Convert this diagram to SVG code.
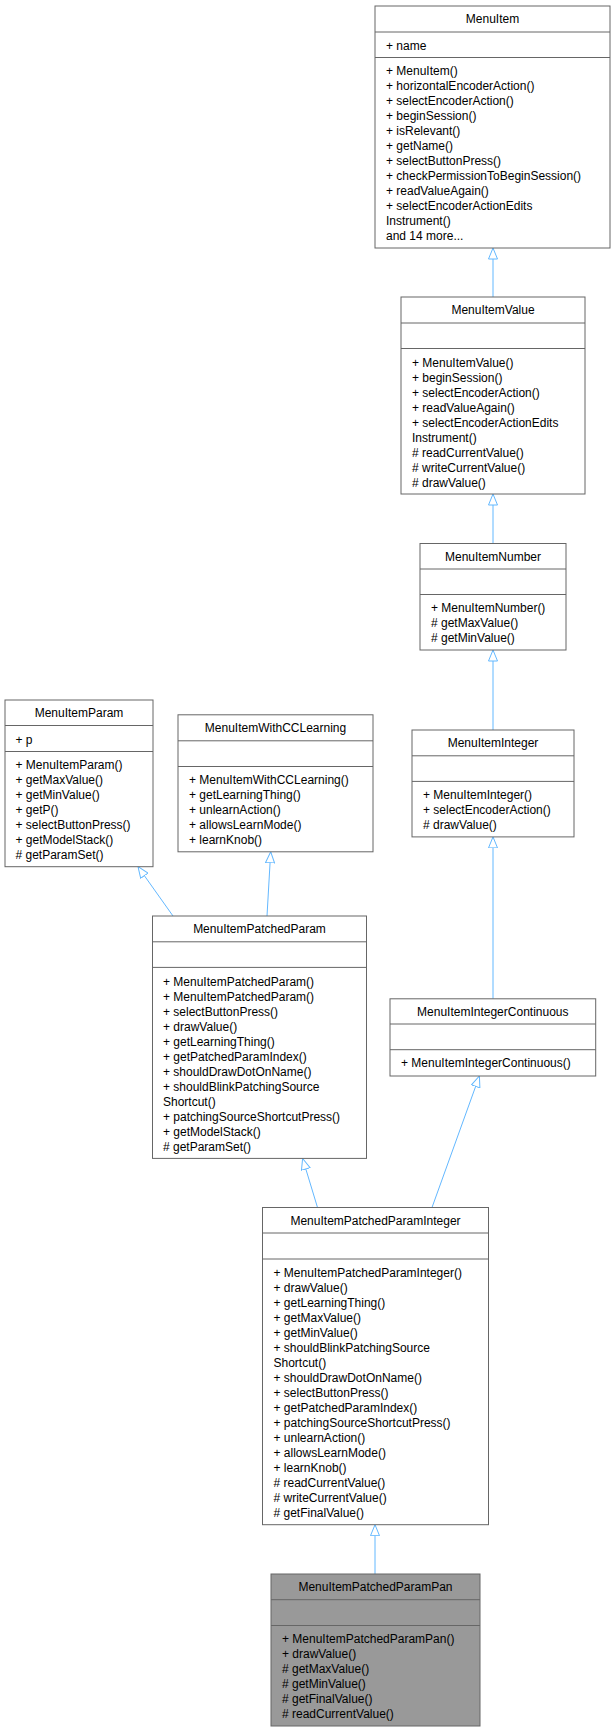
<svg xmlns="http://www.w3.org/2000/svg" width="616" height="1732" viewBox="0 0 616 1732">
<style>
text{font-family:"Liberation Sans",Arial,sans-serif;font-size:12px;fill:#000}
.t{text-anchor:middle}
rect{fill:#fff;stroke:#666;stroke-width:1}
rect.sel{fill:#999}
line.s{stroke:#666;stroke-width:1}
.e{fill:none;stroke:#63b8ff;stroke-width:1}
</style>
<defs>
<marker id="inh" viewBox="0 0 12 10" refX="11.5" refY="5" markerWidth="12" markerHeight="10" markerUnits="userSpaceOnUse" orient="auto">
<path d="M0.5,0.5 L11.5,5 L0.5,9.5 Z" fill="#fff" stroke="#63b8ff"/>
</marker>
</defs>
<rect width="616" height="1732" style="fill:#fff;stroke:none"/>
<g id="edges">
<path class="e" marker-end="url(#inh)" d="M493,297 L493,248"/>
<path class="e" marker-end="url(#inh)" d="M493,543.5 L493,494"/>
<path class="e" marker-end="url(#inh)" d="M493,730 L493,650"/>
<path class="e" marker-end="url(#inh)" d="M493,998.8 L493,836.9"/>
<path class="e" marker-end="url(#inh)" d="M173,916 L138,866.7"/>
<path class="e" marker-end="url(#inh)" d="M267,916 L270.7,851.8"/>
<path class="e" marker-end="url(#inh)" d="M317.5,1207.5 L302.6,1158.4"/>
<path class="e" marker-end="url(#inh)" d="M432,1207.5 L479.4,1076"/>
<path class="e" marker-end="url(#inh)" d="M375,1574 L375,1524.7"/>
</g>
<g id="MenuItem">
<rect x="375" y="6" width="235" height="242"/>
<line class="s" x1="375" y1="32" x2="610" y2="32"/><line class="s" x1="375" y1="57.5" x2="610" y2="57.5"/>
<text class="t" x="492.5" y="23">MenuItem</text>
<text x="386" y="50">+ name</text>
<text x="386" y="74.5">+ MenuItem()</text>
<text x="386" y="89.5">+ horizontalEncoderAction()</text>
<text x="386" y="104.5">+ selectEncoderAction()</text>
<text x="386" y="119.5">+ beginSession()</text>
<text x="386" y="134.5">+ isRelevant()</text>
<text x="386" y="149.5">+ getName()</text>
<text x="386" y="164.5">+ selectButtonPress()</text>
<text x="386" y="179.5">+ checkPermissionToBeginSession()</text>
<text x="386" y="194.5">+ readValueAgain()</text>
<text x="386" y="209.5">+ selectEncoderActionEdits</text>
<text x="386" y="224.5">Instrument()</text>
<text x="386" y="239.5">and 14 more...</text>
</g>
<g id="MenuItemValue">
<rect x="401" y="297" width="184" height="197"/>
<line class="s" x1="401" y1="323" x2="585" y2="323"/><line class="s" x1="401" y1="348.5" x2="585" y2="348.5"/>
<text class="t" x="493" y="314">MenuItemValue</text>
<text x="412" y="366.5">+ MenuItemValue()</text>
<text x="412" y="381.5">+ beginSession()</text>
<text x="412" y="396.5">+ selectEncoderAction()</text>
<text x="412" y="411.5">+ readValueAgain()</text>
<text x="412" y="426.5">+ selectEncoderActionEdits</text>
<text x="412" y="441.5">Instrument()</text>
<text x="412" y="456.5"># readCurrentValue()</text>
<text x="412" y="471.5"># writeCurrentValue()</text>
<text x="412" y="486.5"># drawValue()</text>
</g>
<g id="MenuItemNumber">
<rect x="420" y="543.5" width="146" height="106.5"/>
<line class="s" x1="420" y1="569" x2="566" y2="569"/><line class="s" x1="420" y1="594.5" x2="566" y2="594.5"/>
<text class="t" x="493" y="560.5">MenuItemNumber</text>
<text x="431" y="612">+ MenuItemNumber()</text>
<text x="431" y="627"># getMaxValue()</text>
<text x="431" y="642"># getMinValue()</text>
</g>
<g id="MenuItemParam">
<rect x="5" y="700" width="148" height="166.7"/>
<line class="s" x1="5" y1="725.5" x2="153" y2="725.5"/><line class="s" x1="5" y1="751.5" x2="153" y2="751.5"/>
<text class="t" x="79" y="717">MenuItemParam</text>
<text x="15.5" y="744">+ p</text>
<text x="15.5" y="768.6">+ MenuItemParam()</text>
<text x="15.5" y="783.6">+ getMaxValue()</text>
<text x="15.5" y="798.6">+ getMinValue()</text>
<text x="15.5" y="813.6">+ getP()</text>
<text x="15.5" y="828.6">+ selectButtonPress()</text>
<text x="15.5" y="843.6">+ getModelStack()</text>
<text x="15.5" y="858.6"># getParamSet()</text>
</g>
<g id="MenuItemWithCCLearning">
<rect x="178" y="714.8" width="195" height="137"/>
<line class="s" x1="178" y1="740.8" x2="373" y2="740.8"/><line class="s" x1="178" y1="766.5" x2="373" y2="766.5"/>
<text class="t" x="275.5" y="732">MenuItemWithCCLearning</text>
<text x="189" y="783.5">+ MenuItemWithCCLearning()</text>
<text x="189" y="798.5">+ getLearningThing()</text>
<text x="189" y="813.5">+ unlearnAction()</text>
<text x="189" y="828.5">+ allowsLearnMode()</text>
<text x="189" y="843.5">+ learnKnob()</text>
</g>
<g id="MenuItemInteger">
<rect x="412" y="730" width="162" height="106.9"/>
<line class="s" x1="412" y1="755.8" x2="574" y2="755.8"/><line class="s" x1="412" y1="781.4" x2="574" y2="781.4"/>
<text class="t" x="493" y="747">MenuItemInteger</text>
<text x="423" y="798.8">+ MenuItemInteger()</text>
<text x="423" y="813.8">+ selectEncoderAction()</text>
<text x="423" y="828.8"># drawValue()</text>
</g>
<g id="MenuItemPatchedParam">
<rect x="152.5" y="916" width="214" height="242.4"/>
<line class="s" x1="152.5" y1="941.8" x2="366.5" y2="941.8"/><line class="s" x1="152.5" y1="967.4" x2="366.5" y2="967.4"/>
<text class="t" x="259.5" y="933">MenuItemPatchedParam</text>
<text x="163" y="985.5">+ MenuItemPatchedParam()</text>
<text x="163" y="1000.5">+ MenuItemPatchedParam()</text>
<text x="163" y="1015.5">+ selectButtonPress()</text>
<text x="163" y="1030.5">+ drawValue()</text>
<text x="163" y="1045.5">+ getLearningThing()</text>
<text x="163" y="1060.5">+ getPatchedParamIndex()</text>
<text x="163" y="1075.5">+ shouldDrawDotOnName()</text>
<text x="163" y="1090.5">+ shouldBlinkPatchingSource</text>
<text x="163" y="1105.5">Shortcut()</text>
<text x="163" y="1120.5">+ patchingSourceShortcutPress()</text>
<text x="163" y="1135.5">+ getModelStack()</text>
<text x="163" y="1150.5"># getParamSet()</text>
</g>
<g id="MenuItemIntegerContinuous">
<rect x="390" y="998.8" width="205.7" height="77.2"/>
<line class="s" x1="390" y1="1024" x2="595.7" y2="1024"/><line class="s" x1="390" y1="1049.7" x2="595.7" y2="1049.7"/>
<text class="t" x="492.8" y="1015.5">MenuItemIntegerContinuous</text>
<text x="401" y="1067.4">+ MenuItemIntegerContinuous()</text>
</g>
<g id="MenuItemPatchedParamInteger">
<rect x="262.5" y="1207.5" width="226" height="317.2"/>
<line class="s" x1="262.5" y1="1233" x2="488.5" y2="1233"/><line class="s" x1="262.5" y1="1259" x2="488.5" y2="1259"/>
<text class="t" x="375.5" y="1224.5">MenuItemPatchedParamInteger</text>
<text x="273.5" y="1276.6">+ MenuItemPatchedParamInteger()</text>
<text x="273.5" y="1291.6">+ drawValue()</text>
<text x="273.5" y="1306.6">+ getLearningThing()</text>
<text x="273.5" y="1321.6">+ getMaxValue()</text>
<text x="273.5" y="1336.6">+ getMinValue()</text>
<text x="273.5" y="1351.6">+ shouldBlinkPatchingSource</text>
<text x="273.5" y="1366.6">Shortcut()</text>
<text x="273.5" y="1381.6">+ shouldDrawDotOnName()</text>
<text x="273.5" y="1396.6">+ selectButtonPress()</text>
<text x="273.5" y="1411.6">+ getPatchedParamIndex()</text>
<text x="273.5" y="1426.6">+ patchingSourceShortcutPress()</text>
<text x="273.5" y="1441.6">+ unlearnAction()</text>
<text x="273.5" y="1456.6">+ allowsLearnMode()</text>
<text x="273.5" y="1471.6">+ learnKnob()</text>
<text x="273.5" y="1486.6"># readCurrentValue()</text>
<text x="273.5" y="1501.6"># writeCurrentValue()</text>
<text x="273.5" y="1516.6"># getFinalValue()</text>
</g>
<g id="MenuItemPatchedParamPan">
<rect class="sel" x="271" y="1574" width="209" height="152"/>
<line class="s" x1="271" y1="1599.7" x2="480" y2="1599.7"/><line class="s" x1="271" y1="1625.5" x2="480" y2="1625.5"/>
<text class="t" x="375.5" y="1591">MenuItemPatchedParamPan</text>
<text x="282" y="1642.7">+ MenuItemPatchedParamPan()</text>
<text x="282" y="1657.7">+ drawValue()</text>
<text x="282" y="1672.7"># getMaxValue()</text>
<text x="282" y="1687.7"># getMinValue()</text>
<text x="282" y="1702.7"># getFinalValue()</text>
<text x="282" y="1717.7"># readCurrentValue()</text>
</g>
</svg>
